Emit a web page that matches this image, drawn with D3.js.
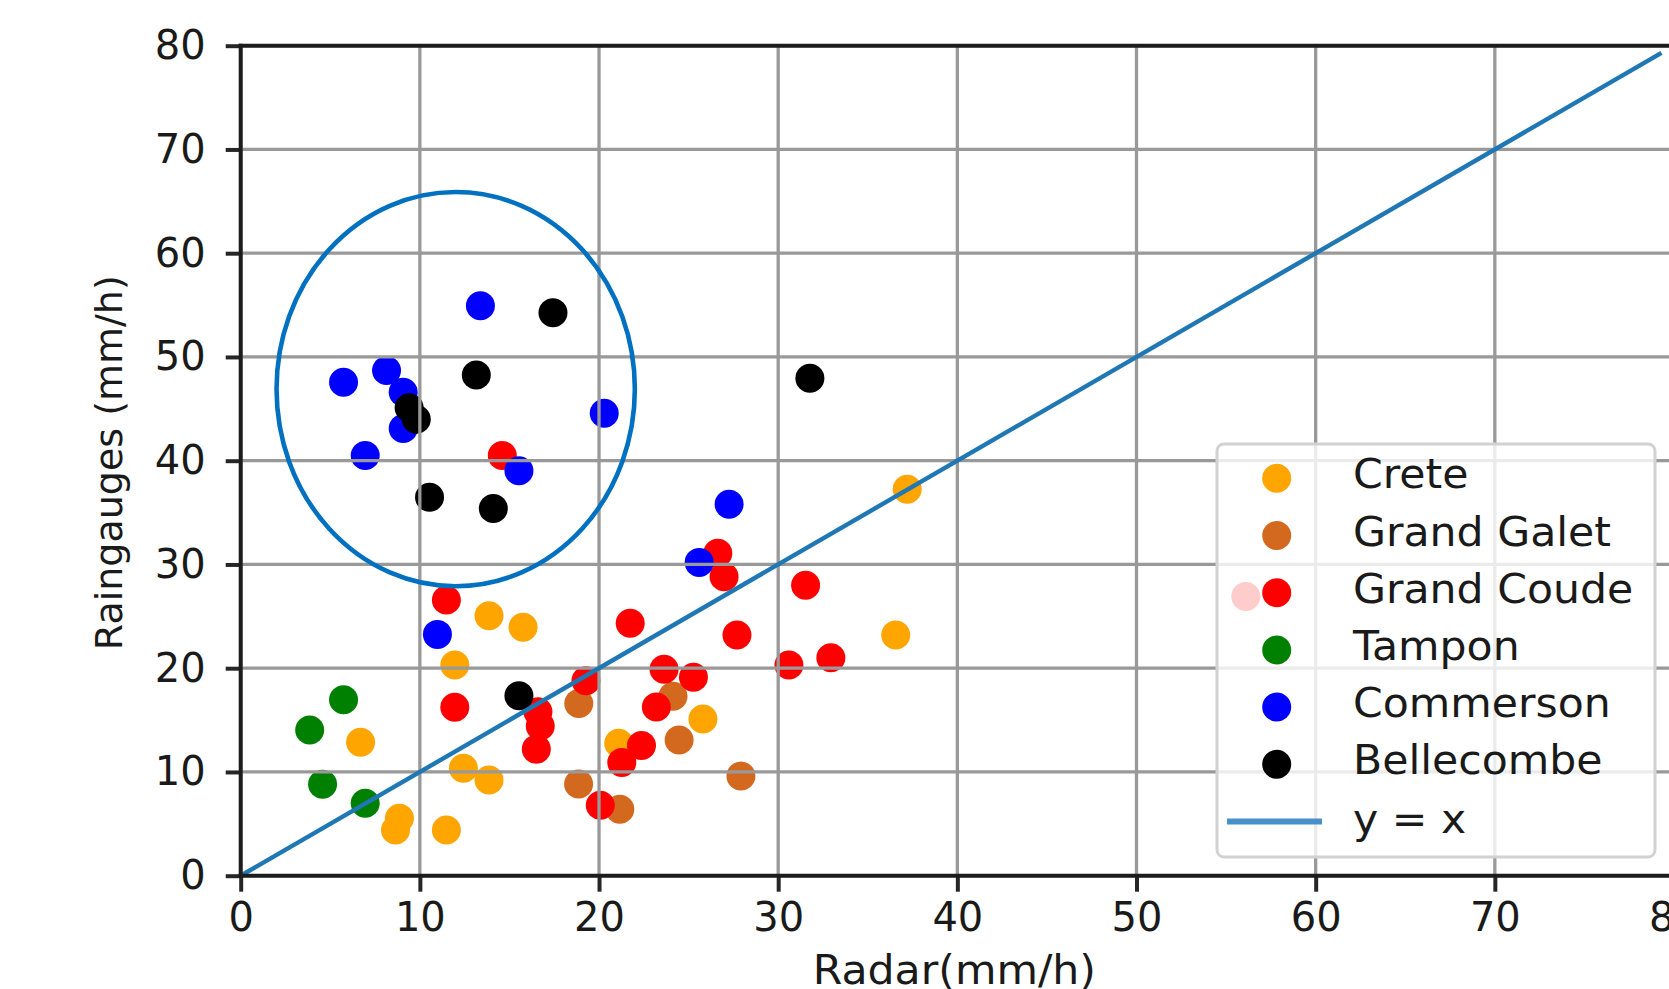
<!DOCTYPE html>
<html>
<head>
<meta charset="utf-8">
<script src="https://cdn.jsdelivr.net/npm/d3@7"></script>
<style>
  html, body { margin: 0; padding: 0; background: #fff; overflow: hidden; }
  svg { display: block; font-family: "DejaVu Sans", sans-serif; }
</style>
</head>
<body>
<svg id="chart" width="1669" height="989"></svg>
<script>
// ---------- data ----------
const seriesNames = ["Crete", "Grand Galet", "Grand Coude", "Tampon", "Commerson", "Bellecombe"];
const seriesColors = ["#FFA500", "#D2691E", "#FF0000", "#008000", "#0000FF", "#000000"];

const crete = [[37.2,37.24],[36.56,23.2],[25.8,15.1],[21.1,12.76],[13.86,25.06],[15.76,23.94],
               [11.95,20.3],[6.69,12.86],[12.43,10.35],[13.86,9.22],[8.86,5.53],[8.64,4.4],[11.48,4.4]];
const grandGalet = [[18.87,16.6],[24.13,17.3],[24.47,13.08],[18.86,8.84],[21.16,6.4],[27.92,9.61]];
const grandCoude = [[14.6,40.5],[11.48,26.57],[11.95,16.23],[21.74,24.33],[16.59,15.8],[16.72,14.43],
                    [16.5,12.2],[19.27,18.8],[23.63,19.9],[25.27,19.12],[23.2,16.25],[22.37,12.56],
                    [21.27,10.9],[20.07,6.8],[26.63,31.07],[26.98,28.82],[31.53,27.99],[27.7,23.2],
                    [32.94,21.0],[30.6,20.3],[56.1,26.9]];
const tampon = [[5.74,16.96],[3.85,14.04],[4.57,8.81],[6.95,6.98]];
const commerson = [[13.38,54.94],[5.74,47.56],[8.14,48.7],[9.07,46.6],[9.07,43.1],[6.95,40.5],
                   [20.29,44.57],[15.53,39.04],[10.98,23.26],[25.59,30.2],[27.26,35.8]];
const bellecombe = [[17.43,54.27],[13.15,48.26],[9.4,45.1],[9.8,44.0],[10.54,36.47],[14.1,35.4],
                    [15.53,17.35],[31.77,47.94]];
const seriesData = [crete, grandGalet, grandCoude, tampon, commerson, bellecombe];

const identityLine = [[0,0],[79.3,79.3]];
const lineLabel = "y = x";
const ellipseCenter = [12.0, 46.9];
const ellipseRadii = [10.0, 19.0];

const xTicks = [0,10,20,30,40,50,60,70,80];
const yTicks = [0,10,20,30,40,50,60,70,80];
const xLabel = "Radar(mm/h)";
const yLabel = "Raingauges (mm/h)";

// ---------- layout ----------
const svg = d3.select("#chart");
const x = d3.scaleLinear().domain([0, 80]).range([240.7, 1674]);
const y = d3.scaleLinear().domain([0, 80]).range([875.7, 45.7]);
const R = 14.5;

// scatter points (below grid, like matplotlib)
const pts = svg.append("g");
seriesData.forEach((arr, i) => {
  pts.append("g").selectAll("circle").data(arr).join("circle")
    .attr("cx", d => x(d[0])).attr("cy", d => y(d[1])).attr("r", R)
    .attr("fill", seriesColors[i]);
});

// grid
const grid = svg.append("g").attr("stroke", "#999").attr("stroke-width", 3.3);
grid.selectAll(".gx").data(xTicks).join("line")
  .attr("x1", d => x(d)).attr("x2", d => x(d)).attr("y1", y(0)).attr("y2", y(80));
grid.selectAll(".gy").data(yTicks).join("line")
  .attr("y1", d => y(d)).attr("y2", d => y(d)).attr("x1", x(0)).attr("x2", x(80));

// y = x line
svg.append("path")
  .attr("d", d3.line().x(d => x(d[0])).y(d => y(d[1]))(identityLine))
  .attr("fill", "none").attr("stroke", "#1f77b4").attr("stroke-width", 4.4);

// axes
const gx = svg.append("g").attr("transform", `translate(0,${y(0)})`)
  .call(d3.axisBottom(x).tickValues(xTicks).tickSize(16).tickSizeOuter(0).tickPadding(11));
const gy = svg.append("g").attr("transform", `translate(${x(0)},0)`)
  .call(d3.axisLeft(y).tickValues(yTicks).tickSize(15).tickSizeOuter(0).tickPadding(20));
[gx, gy].forEach(g => {
  g.select(".domain").remove();
  g.selectAll(".tick line").attr("stroke", "#262626").attr("stroke-width", 4);
  g.selectAll(".tick text").attr("fill", "#1a1a1a")
    .style("font-size", "40px").style("font-family", "DejaVu Sans");
});

// spines
const spines = svg.append("g").attr("stroke", "#1c1c1c").attr("stroke-width", 4).attr("stroke-linecap", "square");
spines.append("line").attr("x1", x(0)).attr("x2", x(0)).attr("y1", y(0)).attr("y2", y(80));
spines.append("line").attr("x1", x(0)).attr("x2", x(80)).attr("y1", y(0)).attr("y2", y(0));
spines.append("line").attr("x1", x(0)).attr("x2", x(80)).attr("y1", y(80)).attr("y2", y(80));
spines.append("line").attr("x1", x(80)).attr("x2", x(80)).attr("y1", y(0)).attr("y2", y(80));

// axis labels
svg.append("text").attr("transform", `translate(${(x(0) + x(80)) / 2 - 3},984) scale(1.04,1)`)
  .attr("text-anchor", "middle").attr("fill", "#1a1a1a").style("font-size", "41px").text(xLabel);
svg.append("text").attr("transform", `translate(122,${(y(0) + y(80)) / 2 + 2}) rotate(-90)`)
  .attr("text-anchor", "middle").attr("fill", "#1a1a1a").style("font-size", "38px").text(yLabel);

// legend
const lg = svg.append("g");
lg.append("rect").attr("x", 1217).attr("y", 444).attr("width", 438).attr("height", 413)
  .attr("rx", 7).attr("fill", "#fff").attr("fill-opacity", 0.8)
  .attr("stroke", "#d2d2d2").attr("stroke-width", 3);
const rowY = i => 478.3 + i * 57.2;
seriesNames.forEach((name, i) => {
  lg.append("circle").attr("cx", 1276.7).attr("cy", rowY(i)).attr("r", R).attr("fill", seriesColors[i]);
  lg.append("text").attr("transform", `translate(1353,${rowY(i) + 10}) scale(1.065,1)`)
    .attr("fill", "#1a1a1a").style("font-size", "40px").text(name);
});
lg.append("line").attr("x1", 1227).attr("x2", 1322).attr("y1", rowY(6)).attr("y2", rowY(6))
  .attr("stroke", "#4a90c8").attr("stroke-width", 6);
lg.append("text").attr("transform", `translate(1353,${rowY(6) + 11}) scale(1.065,1)`)
  .attr("fill", "#1a1a1a").style("font-size", "40px").text(lineLabel);

// annotation ellipse
svg.append("ellipse")
  .attr("cx", x(ellipseCenter[0])).attr("cy", y(ellipseCenter[1]))
  .attr("rx", x(ellipseCenter[0] + ellipseRadii[0]) - x(ellipseCenter[0]))
  .attr("ry", y(ellipseCenter[1] - ellipseRadii[1]) - y(ellipseCenter[1]))
  .attr("fill", "none").attr("stroke", "#0070C0").attr("stroke-width", 4.6);
</script>
</body>
</html>
